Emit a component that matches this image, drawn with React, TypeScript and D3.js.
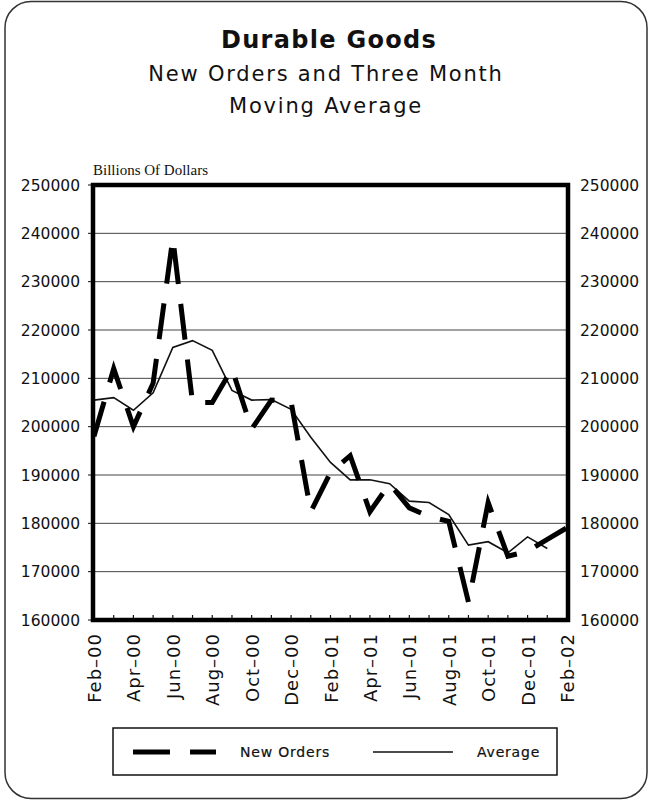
import React from "react";
import * as d3 from "d3";

const months = [
  "Feb-00","Mar-00","Apr-00","May-00","Jun-00","Jul-00","Aug-00","Sep-00","Oct-00","Nov-00","Dec-00",
  "Jan-01","Feb-01","Mar-01","Apr-01","May-01","Jun-01","Jul-01","Aug-01","Sep-01","Oct-01","Nov-01","Dec-01",
  "Jan-02","Feb-02",
];
const newOrders = [
  198000, 212000, 200000, 209000, 239000, 205000, 205000, 212000, 199500, 205500, 205200,
  182400, 190500, 194000, 182400, 188200, 183200, 181400, 180400, 163700, 184300, 173200, 174200,
  176700, 179100,
];
const average = [
  205500, 206000, 203400, 207000, 216400, 217800, 215800, 207500, 205500, 205600, 203600,
  197800, 192600, 189000, 189000, 188200, 184600, 184300, 181800, 175500, 176200, 173900, 177200,
  174800,
];
const yTicks = [160000, 170000, 180000, 190000, 200000, 210000, 220000, 230000, 240000, 250000];
const xLabelEvery = 2;

const SANS = "'DejaVu Sans', sans-serif";

export default function App() {
  const W = 649, H = 802;
  const left = 93, right = 568, top = 185, bottom = 620;
  const x = d3.scaleLinear().domain([0, months.length - 1]).range([left + 1, right - 1]);
  const y = d3.scaleLinear().domain([160000, 250000]).range([bottom, top]);
  const line = d3.line<number>().x((_, i) => x(i)).y((d) => y(d));

  return (
    <div style={{ position: "fixed", left: 0, top: 0 }}>
      <svg width={W} height={H} style={{ display: "block" }}>
        <rect x={0} y={0} width={W} height={H} fill="#fff" />
        <rect x={5} y={1.5} width={642} height={797} rx={26} ry={26} fill="none" stroke="#333" strokeWidth={1.5} />

        <text x={329} y={48} textAnchor="middle" fontFamily={SANS} fontWeight="bold" fontSize={24} fill="#111" letterSpacing={1.3}>Durable Goods</text>
        <text x={326} y={81} textAnchor="middle" fontFamily={SANS} fontSize={21} fill="#111" letterSpacing={1.8}>New Orders and Three Month</text>
        <text x={326} y={113} textAnchor="middle" fontFamily={SANS} fontSize={21} fill="#111" letterSpacing={1.8}>Moving Average</text>

        <text x={93} y={175} fontFamily="'Liberation Serif', 'Times New Roman', serif" fontSize={15} fill="#111">Billions Of Dollars</text>

        {/* gridlines */}
        {yTicks.map((t) => (
          <line key={"g" + t} x1={left} x2={right} y1={y(t)} y2={y(t)} stroke="#444" strokeWidth={1} />
        ))}
        {/* y labels */}
        {yTicks.map((t) => (
          <g key={"yl" + t}>
            <text x={80} y={y(t)} dy="0.36em" textAnchor="end" fontFamily={SANS} fontSize={15.5} fill="#111">{t}</text>
            <text x={580} y={y(t)} dy="0.36em" textAnchor="start" fontFamily={SANS} fontSize={15.5} fill="#111">{t}</text>
            <line x1={left - 5} x2={left} y1={y(t)} y2={y(t)} stroke="#111" strokeWidth={1} />
          </g>
        ))}
        {/* x ticks */}
        {months.map((m, i) => (
          <line key={"xt" + m} x1={x(i)} x2={x(i)} y1={bottom} y2={bottom - 5} stroke="#111" strokeWidth={1.2} />
        ))}
        {months.map((m, i) =>
          i % xLabelEvery === 0 ? (
            <text
              key={"xl" + m}
              transform={`translate(${x(i) + 7},${bottom + 13}) rotate(-90)`}
              textAnchor="end"
              fontFamily={SANS}
              fontSize={18}
              letterSpacing={1}
              fill="#111"
            >
              {m.replace("-", "\u2013")}
            </text>
          ) : null
        )}

        {/* series */}
        <path d={line(average) || ""} fill="none" stroke="#111" strokeWidth={1.6} strokeLinejoin="miter" />
        <path d={line(newOrders) || ""} fill="none" stroke="#000" strokeWidth={5} strokeDasharray="36 20" strokeLinejoin="miter" />

        {/* frame */}
        <rect x={left} y={top} width={right - left} height={bottom - top} fill="none" stroke="#000" strokeWidth={4.5} />

        {/* legend */}
        <rect x={113} y={728} width={444} height={47} fill="#fff" stroke="#111" strokeWidth={1.5} />
        <line x1={133} x2={216} y1={752} y2={752} stroke="#000" strokeWidth={5} strokeDasharray="37 20" />
        <text x={240} y={752} dy="0.36em" fontFamily={SANS} fontSize={14} fill="#111" stroke="#111" strokeWidth={0.2} letterSpacing={0.8}>New Orders</text>
        <line x1={373} x2={453} y1={752} y2={752} stroke="#111" strokeWidth={1.6} />
        <text x={477} y={752} dy="0.36em" fontFamily={SANS} fontSize={14} fill="#111" stroke="#111" strokeWidth={0.2} letterSpacing={0.8}>Average</text>
      </svg>
    </div>
  );
}
